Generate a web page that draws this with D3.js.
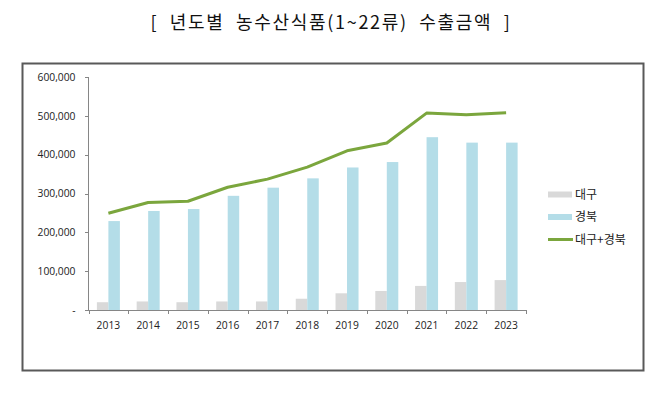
<!DOCTYPE html>
<html>
<head>
    <meta charset="utf-8">
    <title>년도별 농수산식품 수출금액</title>
    <script src="https://cdn.jsdelivr.net/npm/d3@7"></script>
    <style type="text/css">
        body {
            margin: 0;
            background-color: white;
        }
        svg {
            display: block;
            font-family: "Noto Sans CJK KR", "Noto Sans", sans-serif;
        }
        .axis path,
        .axis line {
            fill: none;
            stroke: #868686;
            shape-rendering: crispEdges;
        }
        .axis text {
            font-family: "Open Sans", "Noto Sans", sans-serif;
            font-size: 10.3px;
            fill: #222;
        }
    </style>
</head>
<body>
<script>
    // data
    var years = ["2013", "2014", "2015", "2016", "2017", "2018", "2019", "2020", "2021", "2022", "2023"];
    var daegu = [20000, 22000, 20000, 22000, 22000, 29000, 43000, 49000, 62000, 72000, 77000];
    var gyeongbuk = [229000, 255000, 260000, 294000, 315000, 339000, 367000, 381000, 445000, 431000, 431000];
    var total = [249000, 277000, 280000, 316000, 337000, 368000, 410000, 430000, 507000, 503000, 508000];
    var yTicks = [0, 100000, 200000, 300000, 400000, 500000, 600000];
    var seriesNames = ["대구", "경북", "대구+경북"];
    var colors = ["#d9d9d9", "#b4dde8", "#7ba63d"];

    var w = 670;
    var h = 394;

    var svg = d3.select("body")
        .append("svg")
        .attr("width", w)
        .attr("height", h);

    // title
    svg.append("text")
        .attr("x", 331)
        .attr("y", 29)
        .attr("text-anchor", "middle")
        .attr("font-size", "18px")
        .attr("letter-spacing", "1.7px")
        .attr("fill", "#111")
        .attr("xml:space", "preserve")
        .text("[  년도별  농수산식품(1~22류)  수출금액  ]");

    // chart frame
    svg.append("rect")
        .attr("x", 22.5)
        .attr("y", 63.5)
        .attr("width", 621)
        .attr("height", 307)
        .attr("fill", "white")
        .attr("stroke", "#595959")
        .attr("stroke-width", 2);

    var xScale = d3.scaleBand()
        .domain(years)
        .range([88.5, 526]);

    var yScale = d3.scaleLinear()
        .domain([0, 600000])
        .range([310, 77]);

    var groupHalf = 11.5;
    var inner = d3.scaleBand()
        .domain([0, 1])
        .range([xScale.bandwidth() / 2 - groupHalf, xScale.bandwidth() / 2 + groupHalf]);

    // axes
    var yAxis = d3.axisLeft(yScale)
        .tickValues(yTicks)
        .tickSize(4)
        .tickPadding(9)
        .tickFormat(function(d) { return d === 0 ? "-" : d3.format(",")(d); });

    svg.append("g")
        .attr("class", "y axis")
        .attr("transform", "translate(88.5,0)")
        .call(yAxis)
        .call(function(g) { g.select(".domain").attr("d", "M0," + yScale(600000) + "V" + yScale(0)); });

    var xAxis = d3.axisBottom(xScale)
        .tickSize(0)
        .tickPadding(12);

    var xg = svg.append("g")
        .attr("class", "x axis")
        .attr("transform", "translate(0,310)")
        .call(xAxis);
    xg.select(".domain").attr("d", "M88.5,0H526");

    // boundary tick marks between categories
    xg.selectAll(".bound")
        .data(d3.range(years.length + 1))
        .enter()
        .append("line")
        .attr("class", "bound")
        .attr("x1", function(i) { return Math.round(88.5 + i * xScale.step()) + 0.5; })
        .attr("x2", function(i) { return Math.round(88.5 + i * xScale.step()) + 0.5; })
        .attr("y1", 0)
        .attr("y2", 4);

    // bars
    var groups = svg.append("g")
        .selectAll("g")
        .data(years)
        .enter()
        .append("g")
        .attr("transform", function(d) { return "translate(" + xScale(d) + ",0)"; });

    groups.append("rect")
        .attr("x", inner(0))
        .attr("width", inner.bandwidth())
        .attr("y", function(d, i) { return yScale(daegu[i]); })
        .attr("height", function(d, i) { return yScale(0) - yScale(daegu[i]); })
        .attr("fill", colors[0]);

    groups.append("rect")
        .attr("x", inner(1))
        .attr("width", inner.bandwidth())
        .attr("y", function(d, i) { return yScale(gyeongbuk[i]); })
        .attr("height", function(d, i) { return yScale(0) - yScale(gyeongbuk[i]); })
        .attr("fill", colors[1]);

    // total line
    var line = d3.line()
        .x(function(d, i) { return xScale(years[i]) + xScale.bandwidth() / 2; })
        .y(function(d) { return yScale(d); });

    svg.append("path")
        .datum(total)
        .attr("d", line)
        .attr("fill", "none")
        .attr("stroke", colors[2])
        .attr("stroke-width", 3)
        .attr("stroke-linejoin", "round");

    // legend
    var legend = svg.append("g")
        .selectAll("g")
        .data(seriesNames)
        .enter()
        .append("g")
        .attr("transform", function(d, i) { return "translate(548," + (194.5 + i * 22.5) + ")"; });

    legend.filter(function(d, i) { return i < 2; })
        .append("rect")
        .attr("x", 0)
        .attr("y", -3)
        .attr("width", 24)
        .attr("height", 6)
        .attr("fill", function(d, i) { return colors[i]; });

    legend.filter(function(d, i) { return i === 2; })
        .append("line")
        .attr("x1", 0)
        .attr("x2", 25)
        .attr("stroke", colors[2])
        .attr("stroke-width", 3);

    legend.append("text")
        .attr("x", 27)
        .attr("dy", "0.36em")
        .attr("font-size", "12px")
        .attr("fill", "#222")
        .text(function(d) { return d; });
</script>
</body>
</html>
